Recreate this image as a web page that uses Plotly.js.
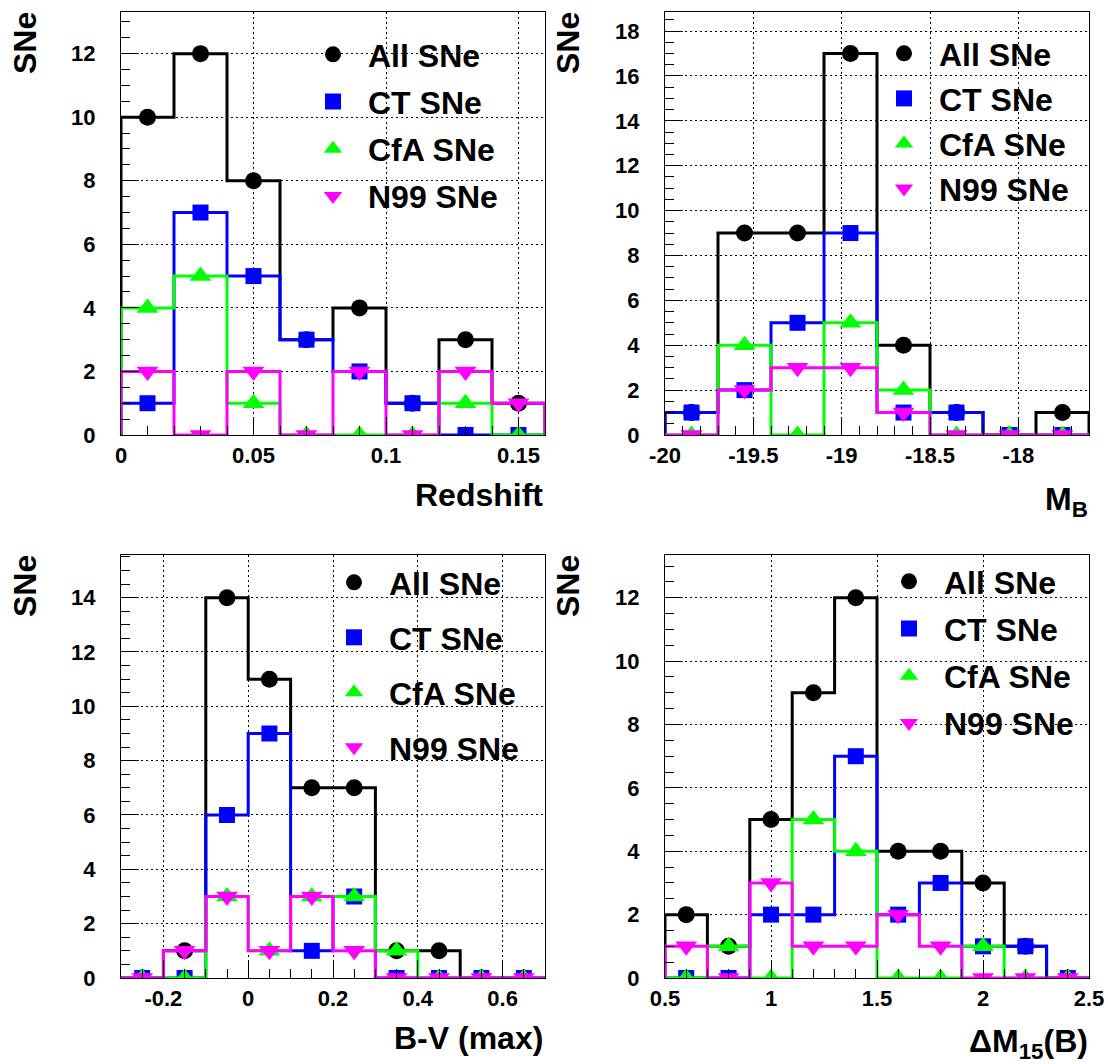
<!DOCTYPE html>
<html><head><meta charset="utf-8">
<script src="https://cdn.plot.ly/plotly-3.0.1.min.js"></script>
<style>html,body{margin:0;padding:0;background:#fff}</style>
</head><body><div id="chart" style="width:1108px;height:1064px"></div>
<script>
// ---------------- Data ----------------
// Panel 1: Redshift
const zEdges = [0, 0.02, 0.04, 0.06, 0.08, 0.10, 0.12, 0.14, 0.16];
const zAll  = [10, 12, 8, 3, 4, 1, 3, 1];
const zCT   = [1, 7, 5, 3, 2, 1, 0, 0];
const zCfA  = [4, 5, 1, 0, 0, 0, 1, 0];
const zN99  = [2, 0, 2, 0, 2, 0, 2, 1];
const zTicks = [0, 0.05, 0.1, 0.15];
const zTickText = ['0', '0.05', '0.1', '0.15'];

// Panel 2: M_B
const mEdges = [-20, -19.7, -19.4, -19.1, -18.8, -18.5, -18.2, -17.9, -17.6];
const mAll  = [1, 9, 9, 17, 4, 1, 0, 1];
const mCT   = [1, 2, 5, 9, 1, 1, 0, 0];
const mCfA  = [0, 4, 0, 5, 2, 0, 0, 0];
const mN99  = [0, 2, 3, 3, 1, 0, 0, 0];
const mTicks = [-20, -19.5, -19, -18.5, -18];
const mTickText = ['-20', '-19.5', '-19', '-18.5', '-18'];

// Panel 3: B-V (max)
const bvEdges = [-0.3, -0.2, -0.1, 0, 0.1, 0.2, 0.3, 0.4, 0.5, 0.6, 0.7];
const bvAll  = [0, 1, 14, 11, 7, 7, 1, 1, 0, 0];
const bvCT   = [0, 0, 6, 9, 1, 3, 0, 0, 0, 0];
const bvCfA  = [0, 0, 3, 1, 3, 3, 1, 0, 0, 0];
const bvN99  = [0, 1, 3, 1, 3, 1, 0, 0, 0, 0];
const bvTicks = [-0.2, 0, 0.2, 0.4, 0.6];
const bvTickText = ['-0.2', '0', '0.2', '0.4', '0.6'];

// Panel 4: Delta M15(B)
const dEdges = [0.5, 0.7, 0.9, 1.1, 1.3, 1.5, 1.7, 1.9, 2.1, 2.3, 2.5];
const dAll  = [2, 1, 5, 9, 12, 4, 4, 3, 1, 0];
const dCT   = [0, 0, 2, 2, 7, 2, 3, 1, 1, 0];
const dCfA  = [0, 1, 0, 5, 4, 0, 0, 1, 0, 0];
const dN99  = [1, 0, 3, 1, 1, 2, 1, 0, 0, 0];
const dTicks = [0.5, 1, 1.5, 2, 2.5];
const dTickText = ['0.5', '1', '1.5', '2', '2.5'];

const seriesNames = ['All SNe', 'CT SNe', 'CfA SNe', 'N99 SNe'];

// ---------------- Styles ----------------
const W = 1108, H = 1064;
const FONT = 'Liberation Sans, Arial, Helvetica, sans-serif';
const styles = [
  {color: '#000000', symbol: 'circle', size: 17},
  {color: '#0000ff', symbol: 'square', size: 16},
  {color: '#00ff00', symbol: 'triangle-up', size: 19},
  {color: '#ff00ff', symbol: 'triangle-down', size: 19}
];

function stepXY(edges, vals) {
  const x = [edges[0]], y = [0];
  for (let i = 0; i < vals.length; i++) {
    x.push(edges[i], edges[i + 1]);
    y.push(vals[i], vals[i]);
  }
  x.push(edges[edges.length - 1]); y.push(0);
  return {x, y};
}
function centers(edges) {
  const c = [];
  for (let i = 0; i < edges.length - 1; i++) c.push((edges[i] + edges[i + 1]) / 2);
  return c;
}

const panels = [
  {edges: zEdges, sets: [zAll, zCT, zCfA, zN99], xa: 'x', ya: 'y', leg: 'legend'},
  {edges: mEdges, sets: [mAll, mCT, mCfA, mN99], xa: 'x2', ya: 'y2', leg: 'legend2'},
  {edges: bvEdges, sets: [bvAll, bvCT, bvCfA, bvN99], xa: 'x3', ya: 'y3', leg: 'legend3'},
  {edges: dEdges, sets: [dAll, dCT, dCfA, dN99], xa: 'x4', ya: 'y4', leg: 'legend4'}
];

const traces = [];
panels.forEach((p, pi) => {
  const cx = centers(p.edges);
  p.sets.forEach((vals, si) => {
    const st = styles[si];
    const s = stepXY(p.edges, vals);
    traces.push({
      type: 'scatter', mode: 'lines', x: s.x, y: s.y, xaxis: p.xa, yaxis: p.ya,
      line: {color: st.color, width: 3, shape: 'linear'}, showlegend: false, hoverinfo: 'skip'
    });
    traces.push({
      type: 'scatter', mode: 'markers', x: cx, y: vals, xaxis: p.xa, yaxis: p.ya,
      name: seriesNames[si], legend: p.leg, legendgroup: 'p' + pi + 's' + si,
      marker: {color: st.color, symbol: st.symbol, size: st.size, line: {width: 0}},
      showlegend: true
    });
  });
});

// ---------------- Layout ----------------
function px2x(a, b) { return [a / W, b / W]; }
function px2y(top, bottom) { return [1 - bottom / H, 1 - top / H]; }

const tickFont = {family: FONT, size: 22, weight: 'bold', color: '#000'};
function axisBase(domain, range, anchor) {
  return {
    domain, range, anchor, fixedrange: true,
    ticks: 'inside', ticklen: 18, tickwidth: 1, tickcolor: '#000',
    showgrid: true, gridcolor: '#000', gridwidth: 1, griddash: '2px,3px',
    showline: true, linecolor: '#000', linewidth: 1, mirror: true,
    zeroline: false, tickfont: tickFont
  };
}
function xAxis(domain, range, anchor, tv, tt, minorD) {
  return Object.assign(axisBase(domain, range, anchor), {
    tickmode: 'array', tickvals: tv, ticktext: tt, ticklabelstandoff: 1,
    minor: {ticks: 'inside', ticklen: 9, tickwidth: 1, tickcolor: '#000', tick0: range[0], dtick: minorD, showgrid: false}
  });
}
function yAxis(domain, range, anchor) {
  return Object.assign(axisBase(domain, range, anchor), {
    tickmode: 'linear', tick0: 0, dtick: 2, ticklabelstandoff: 20,
    minor: {ticks: 'inside', ticklen: 9, tickwidth: 1, tickcolor: '#000', tick0: 0, dtick: 0.5, showgrid: false}
  });
}

const L = [121, 545], R = [665, 1089];
const T = [12, 435], B = [555, 978];

const legFont = {family: FONT, size: 32, weight: 'bold', color: '#000'};
function legend(xpx, ypx, gap) {
  return {x: xpx / W, xanchor: 'left', y: 1 - ypx / H, yanchor: 'top',
    bgcolor: 'rgba(0,0,0,0)', borderwidth: 0, font: legFont,
    itemwidth: 60, tracegroupgap: gap, traceorder: 'grouped'};
}

const titleFont = {family: FONT, size: 32, weight: 'bold', color: '#000'};
function ann(text, xpx, ypx, xanchor, angle) {
  return {text, x: xpx / W, y: 1 - ypx / H, xref: 'paper', yref: 'paper',
    xanchor: xanchor, yanchor: 'middle', showarrow: false, font: titleFont, textangle: angle || 0};
}

const layout = {
  width: W, height: H, margin: {l: 0, r: 0, t: 0, b: 0},
  paper_bgcolor: '#fff', plot_bgcolor: '#fff', showlegend: true,
  xaxis:  xAxis(px2x(...L), [0, 0.16], 'y', zTicks, zTickText, 0.01),
  yaxis:  yAxis(px2y(...T), [0, 13.31], 'x'),
  xaxis2: xAxis(px2x(...R), [-20, -17.6], 'y2', mTicks, mTickText, 0.1),
  yaxis2: yAxis(px2y(...T), [0, 18.85], 'x2'),
  xaxis3: xAxis(px2x(...L), [-0.3, 0.7], 'y3', bvTicks, bvTickText, 0.05),
  yaxis3: yAxis(px2y(...B), [0, 15.57], 'x3'),
  xaxis4: xAxis(px2x(...R), [0.5, 2.5], 'y4', dTicks, dTickText, 0.1),
  yaxis4: yAxis(px2y(...B), [0, 13.35], 'x4'),
  legend:  legend(298, 27, 2.6),
  legend2: legend(869, 26, 0.5),
  legend3: legend(319, 555, 10.4),
  legend4: legend(874, 554, 2.6),
  annotations: [
    ann('SNe', 25, 43, 'center', -90),
    ann('SNe', 568, 43, 'center', -90),
    ann('SNe', 25, 586, 'center', -90),
    ann('SNe', 568, 586, 'center', -90),
    ann('Redshift', 545, 495, 'right'),
    ann('M<sub>B</sub>', 1090, 502, 'right'),
    ann('B-V (max)', 545, 1038, 'right'),
    ann('\u0394M<sub>15</sub>(B)', 1090, 1043, 'right')
  ]
};

Plotly.newPlot('chart', traces, layout, {staticPlot: true, displayModeBar: false});
</script>
</body></html>
